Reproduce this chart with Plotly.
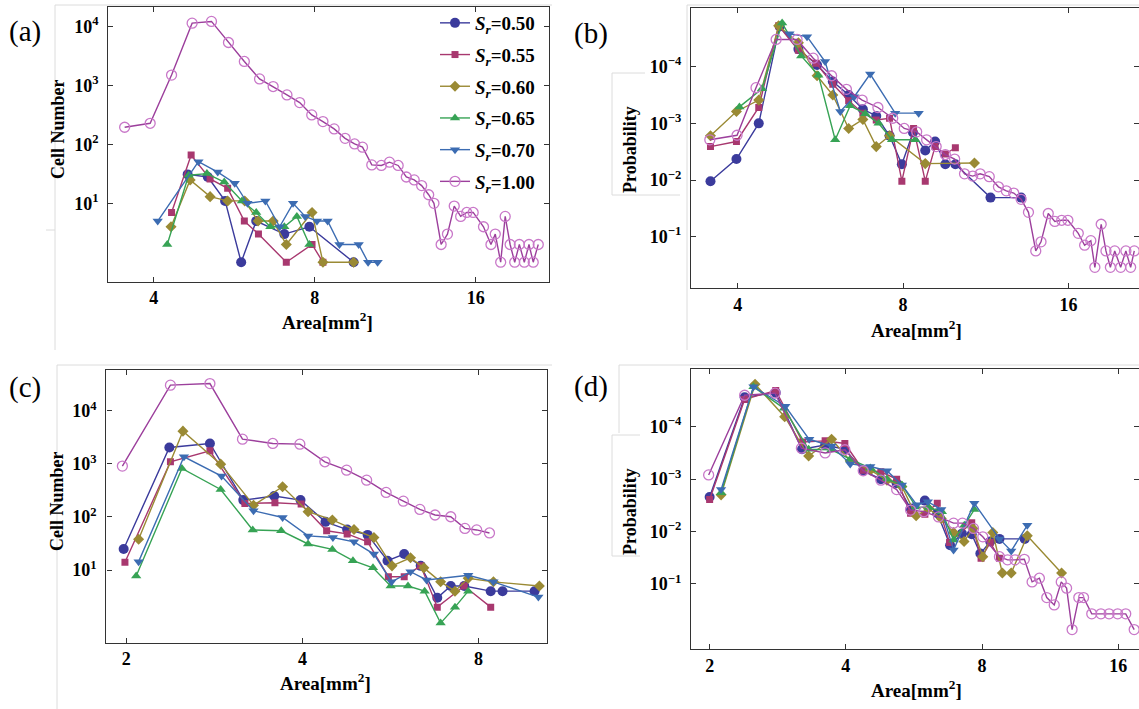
import math
import plotly.graph_objects as go

# ---------------- data ----------------
series_names = ["0.50", "0.55", "0.60", "0.65", "0.70", "1.00"]

# (a) cell number vs area
a_x_050 = [4.63, 5.05, 5.44, 5.83, 6.22, 7.02, 7.82, 9.46]
a_n_050 = [31, 28, 11, 1, 5, 3, 4, 1]
a_x_055 = [4.32, 4.70, 5.10, 5.50, 5.91, 6.28, 7.08, 7.91, 8.29]
a_n_055 = [7, 66, 26, 18, 5, 3, 1, 2, 1]
a_x_060 = [4.31, 4.68, 5.10, 5.50, 5.92, 6.27, 6.69, 7.08, 7.91, 8.29, 9.46]
a_n_060 = [4, 25, 13, 11, 11, 5, 5, 2, 7, 1, 1]
a_x_065 = [4.24, 4.65, 5.03, 5.42, 5.85, 6.22, 6.61, 7.02, 7.41, 7.82]
a_n_065 = [2, 30, 32, 23, 11, 7, 4, 4, 6, 2]
a_x_070 = [4.07, 4.85, 5.27, 5.67, 5.99, 6.47, 6.88, 7.29, 7.68, 8.08, 8.46, 8.90, 9.67, 10.07, 10.49]
a_n_070 = [5, 51, 34, 22, 10, 11, 4, 10, 6, 5, 5, 2, 2, 1, 1]
a_x_100 = [3.53, 3.94, 4.32, 4.72, 5.13, 5.52, 5.91, 6.31, 6.69, 7.10, 7.50, 7.90, 8.29, 8.70,
           9.12, 9.50, 9.83, 10.23, 10.66, 11.04, 11.46, 11.87, 12.28, 12.68, 13.07, 13.37,
           13.79, 14.17, 14.59, 15.00, 15.40, 15.83, 16.55, 17.09, 17.41, 17.82, 18.17, 18.56,
           18.93, 19.31, 19.73, 20.13, 20.50, 20.95]
a_n_100 = [196, 229, 1510, 11500, 12300, 5400, 2570, 1300, 964, 695, 515, 318, 245, 184,
           127, 102, 90, 45, 44, 50, 44, 28, 25, 20, 14, 10,
           2, 3, 9, 6, 7, 7, 4, 2, 3, 1, 6, 2,
           1, 2, 1, 2, 1, 2]

# (b) probability vs area (log10 of the value as read on the axis)
b_x_050 = [3.57, 3.98, 4.37, 4.77, 5.16, 5.58, 5.96, 6.37, 6.76, 7.15, 7.56, 7.96, 8.34, 8.78,
           9.15, 9.55, 9.96, 11.54, 13.12]
b_e_050 = [-1.98, -2.37, -3.00, -4.71, -4.31, -4.03, -3.74, -3.50, -3.25, -3.13, -2.78, -2.28,
           -2.84, -2.52, -2.68, -2.28, -2.28, -1.69, -1.69]
b_x_055 = [3.57, 3.98, 4.37, 4.75, 5.16, 5.56, 5.96, 6.37, 6.76, 7.15, 7.56, 7.96, 8.36, 8.78,
           9.15, 9.55, 9.96]
b_e_055 = [-2.59, -2.68, -3.28, -4.72, -4.29, -4.06, -3.69, -3.40, -3.18, -3.06, -3.09, -1.98,
           -2.91, -1.98, -2.59, -2.46, -2.57]
b_x_060 = [3.57, 3.98, 4.37, 4.75, 5.16, 5.58, 5.96, 6.37, 6.76, 7.15, 7.56, 8.78, 10.79]
b_e_060 = [-2.78, -3.21, -3.41, -4.72, -4.42, -3.84, -3.50, -2.91, -3.07, -2.59, -2.78, -2.29, -2.30]
b_x_065 = [4.03, 4.43, 4.82, 5.22, 5.61, 6.02, 6.41, 6.83, 7.22, 7.64, 8.42]
b_e_065 = [-3.29, -3.61, -4.77, -4.19, -3.85, -2.71, -3.31, -3.17, -3.00, -2.71, -2.71]
b_x_070 = [4.97, 5.35, 5.77, 6.15, 6.52, 6.97, 7.74, 8.54]
b_e_070 = [-4.58, -4.53, -4.09, -3.21, -3.47, -3.87, -3.18, -3.18]
b_x_100 = [3.56, 3.99, 4.32, 4.70, 5.13, 5.49, 5.93, 6.31, 6.74, 7.20, 7.66, 8.04, 8.47, 8.83,
           9.19, 9.55, 9.93, 10.35, 10.71, 11.05, 11.48, 11.93, 12.33, 12.72, 13.12, 13.53,
           13.95, 14.26, 14.70, 15.11, 15.55, 15.96, 16.67, 17.12, 17.57, 17.87, 18.35, 18.72,
           19.07, 19.42, 19.91, 20.35, 20.76, 21.08]
b_e_100 = [-2.71, -2.79, -3.63, -4.48, -4.48, -4.15, -3.84, -3.60, -3.41, -3.28, -3.09, -2.91,
           -2.85, -2.71, -2.59, -2.45, -2.37, -2.11, -2.07, -2.11, -2.06, -1.88, -1.81, -1.77,
           -1.66, -1.43, -0.75, -0.91, -1.41, -1.27, -1.29, -1.29, -1.06, -0.85, -0.93, -0.46,
           -1.22, -0.75, -0.46, -0.75, -0.46, -0.75, -0.46, -0.75]

# (c) cell number vs area
c_x_050 = [1.98, 2.37, 2.78, 3.17, 3.58, 3.97, 4.38, 4.77, 5.17, 5.59, 5.97, 6.37, 6.80, 7.17,
           7.56, 8.39, 8.79, 9.97]
c_n_050 = [25, 2040, 2430, 208, 248, 208, 81, 58, 46, 15, 20, 12, 3, 5, 5, 4, 4, 4]
c_x_055 = [1.99, 2.38, 2.78, 3.19, 3.59, 3.98, 4.40, 4.77, 5.17, 5.61, 5.97, 6.37, 6.80, 7.56, 8.39]
c_n_055 = [14, 1100, 1770, 180, 185, 175, 55, 48, 34, 7.5, 7.5, 12, 2, 5, 2]
c_x_060 = [2.10, 2.50, 2.90, 3.30, 3.70, 4.09, 4.50, 4.90, 5.30, 5.69, 6.12, 6.45, 6.89, 7.29,
           7.68, 8.48, 10.16]
c_n_060 = [38, 4150, 991, 167, 371, 126, 88, 58, 41, 12, 17, 11, 6, 4, 7, 6, 5]
c_x_065 = [2.08, 2.49, 2.90, 3.29, 3.68, 4.09, 4.50, 4.88, 5.28, 5.66, 6.06, 6.47, 6.89, 7.29, 7.68]
c_n_065 = [7.7, 822, 330, 57, 55, 31, 24.5, 15, 11, 5, 5, 4, 1, 2, 4]
c_x_070 = [2.10, 2.51, 2.91, 3.30, 3.70, 4.09, 4.51, 4.90, 5.30, 5.68, 6.12, 6.52, 7.68, 8.48, 10.12]
c_n_070 = [14.4, 1361, 589, 131, 98, 44, 41, 34, 20, 6, 9.3, 6.5, 8, 6, 3.1]
c_x_100 = [1.97, 2.38, 2.78, 3.16, 3.56, 3.96, 4.37, 4.76, 5.15, 5.56, 5.95, 6.35, 6.74, 7.17,
           7.58, 7.94, 8.35]
c_n_100 = [909, 30500, 32700, 2930, 2430, 2360, 1097, 764, 495, 290, 199, 139, 109, 101, 61, 57, 50]

# (d) probability vs area (log10 of the value as read on the axis)
d_x_050 = [2.00, 2.39, 2.80, 3.20, 3.60, 3.98, 4.37, 4.78, 5.18, 5.56, 5.98, 6.37, 6.80, 7.22,
           7.59, 7.93, 8.34, 8.74, 9.94]
d_e_050 = [-2.66, -4.56, -4.65, -3.57, -3.65, -3.57, -3.16, -3.00, -2.92, -2.44, -2.59, -2.35,
           -1.74, -1.96, -1.95, -1.58, -1.81, -1.86, -1.86]
d_x_055 = [2.00, 2.39, 2.80, 3.21, 3.60, 3.98, 4.37, 4.78, 5.18, 5.56, 5.98, 6.37, 6.78, 7.59,
           7.96, 8.34, 8.74]
d_e_055 = [-2.61, -4.52, -4.69, -3.71, -3.73, -3.68, -3.17, -3.14, -3.00, -2.35, -2.33, -2.54,
           -1.79, -2.17, -1.49, -1.79, -1.49]
d_x_060 = [2.12, 2.52, 2.93, 3.31, 3.72, 4.09, 4.53, 4.93, 5.32, 5.72, 6.09, 6.50, 6.92, 7.30,
           7.64, 8.03, 8.45, 8.87, 9.28, 10.07, 11.99]
d_e_060 = [-2.70, -4.81, -4.19, -3.44, -3.76, -3.35, -3.17, -2.98, -2.86, -2.30, -2.44, -2.25,
           -1.98, -1.81, -2.06, -1.52, -1.98, -1.21, -1.21, -1.92, -1.21]
d_x_065 = [2.12, 2.50, 2.92, 3.31, 3.72, 4.09, 4.53, 4.93, 5.32, 5.72, 6.10, 6.52, 6.92, 7.31, 7.69]
d_e_065 = [-2.74, -4.76, -4.35, -3.57, -3.56, -3.38, -3.21, -3.00, -2.89, -2.47, -2.46, -2.38,
           -1.84, -2.12, -2.42]
d_x_070 = [2.12, 2.50, 2.94, 3.32, 3.72, 4.09, 4.53, 4.93, 5.32, 5.74, 6.07, 6.50, 6.92, 7.69,
           8.74, 9.28, 10.07]
d_e_070 = [-2.80, -4.76, -4.39, -3.76, -3.63, -3.29, -3.24, -3.16, -2.89, -2.51, -2.57, -2.42,
           -1.65, -2.54, -1.86, -1.63, -2.12]
d_x_100 = [1.99, 2.39, 2.79, 3.19, 3.60, 3.98, 4.37, 4.78, 5.18, 5.56, 5.95, 6.41, 6.92, 7.24,
           7.66, 8.03, 8.74, 9.11, 9.46, 9.92, 10.32, 10.71, 11.12, 11.55, 11.97, 12.30, 12.65,
           13.09, 13.41, 13.98, 14.65, 15.27, 15.95, 16.62, 17.35]
d_e_100 = [-3.08, -4.60, -4.64, -3.59, -3.50, -3.56, -3.16, -2.98, -2.80, -2.41, -2.38, -2.28,
           -2.16, -2.16, -2.06, -1.90, -1.52, -1.46, -1.46, -1.47, -1.04, -1.11, -0.74, -0.60,
           -1.04, -0.92, -0.13, -0.74, -0.74, -0.43, -0.43, -0.43, -0.43, -0.43, -0.13]

# tick labels
a_xticks = [4, 8, 16]
c_xticks = [2, 4, 8]
d_xticks = [2, 4, 8, 16]
count_yticks = [10, 100, 1000, 10000]
count_yticktext = ["10<sup>1</sup>", "10<sup>2</sup>", "10<sup>3</sup>", "10<sup>4</sup>"]
prob_yticks = [1e-4, 1e-3, 1e-2, 1e-1]
prob_yticktext = ["10<sup>\u22124</sup>", "10<sup>\u22123</sup>", "10<sup>\u22122</sup>", "10<sup>\u22121</sup>"]

# ---------------- styling ----------------
W, H = 1139, 709
SERIF = "Liberation Serif"
line_colors = ["#3b3b9c", "#a8386f", "#9a8a34", "#37a355", "#3c6cb2", "#9c3f9c"]
marker_colors = ["#3b3b9c", "#a8386f", "#9a8a34", "#37a355", "#3c6cb2", "#c978c9"]
symbols = ["circle", "square", "diamond", "triangle-up", "triangle-down", "circle-open"]
sizes = [10, 7, 8.5, 9, 9, 10]

fig = go.Figure()


def add_series(xs, ys, k, axis_id, legend):
    xa = "x" if axis_id == 1 else f"x{axis_id}"
    ya = "y" if axis_id == 1 else f"y{axis_id}"
    mk = dict(symbol=symbols[k], size=sizes[k], color=marker_colors[k])
    if symbols[k].endswith("open"):
        mk["line"] = dict(width=1.3, color=marker_colors[k])
    else:
        mk["line"] = dict(width=0)
    fig.add_trace(go.Scatter(
        x=xs, y=ys, mode="lines+markers", xaxis=xa, yaxis=ya,
        name=f"<b><i>S<sub>r</sub></i>=" + series_names[k] + "</b>",
        legendgroup=series_names[k], showlegend=legend,
        line=dict(color=line_colors[k], width=1.4), marker=mk))


a_sets = [(a_x_050, a_n_050), (a_x_055, a_n_055), (a_x_060, a_n_060),
          (a_x_065, a_n_065), (a_x_070, a_n_070), (a_x_100, a_n_100)]
b_sets = [(b_x_050, b_e_050), (b_x_055, b_e_055), (b_x_060, b_e_060),
          (b_x_065, b_e_065), (b_x_070, b_e_070), (b_x_100, b_e_100)]
c_sets = [(c_x_050, c_n_050), (c_x_055, c_n_055), (c_x_060, c_n_060),
          (c_x_065, c_n_065), (c_x_070, c_n_070), (c_x_100, c_n_100)]
d_sets = [(d_x_050, d_e_050), (d_x_055, d_e_055), (d_x_060, d_e_060),
          (d_x_065, d_e_065), (d_x_070, d_e_070), (d_x_100, d_e_100)]

for k, (xs, ys) in enumerate(a_sets):
    add_series(xs, ys, k, 1, True)
for k, (xs, es) in enumerate(b_sets):
    add_series(xs, [10 ** e for e in es], k, 2, False)
for k, (xs, ys) in enumerate(c_sets):
    add_series(xs, ys, k, 3, False)
for k, (xs, es) in enumerate(d_sets):
    add_series(xs, [10 ** e for e in es], k, 4, False)

tickfont = dict(family=SERIF, size=18, color="black")


def bold(s):
    return f"<b>{s}</b>"


def dom_x(x0, x1):
    return [x0 / W, min(1.0, x1 / W)]


def dom_y(y0, y1):
    return [1 - y1 / H, 1 - y0 / H]


def xaxis(domain, lo, hi, ticks, anchor):
    return dict(type="log", domain=domain, range=[math.log10(lo), math.log10(hi)],
                tickvals=ticks, ticktext=[bold(t) for t in ticks], tickfont=tickfont,
                ticks="inside", ticklen=5, tickwidth=1.2, tickcolor="#333",
                showline=True, linecolor="#333", linewidth=1.3, mirror="ticks",
                showgrid=False, zeroline=False, anchor=anchor, ticklabelstandoff=0)


def yaxis(domain, r0, r1, tv, tt, anchor):
    return dict(type="log", domain=domain, range=[r0, r1],
                tickvals=tv, ticktext=[bold(t) for t in tt], tickfont=tickfont,
                ticks="inside", ticklen=5, tickwidth=1.2, tickcolor="#333",
                showline=True, linecolor="#333", linewidth=1.3, mirror="ticks",
                showgrid=False, zeroline=False, anchor=anchor, ticklabelstandoff=5)


layout = dict(
    width=W, height=H, margin=dict(l=0, r=0, t=0, b=0),
    paper_bgcolor="white", plot_bgcolor="white",
    xaxis=xaxis(dom_x(108.3, 549.3), 3.29, 21.97, a_xticks, "y"),
    yaxis=yaxis(dom_y(7.3, 281.7), -0.331, 4.33, count_yticks, count_yticktext, "x"),
    xaxis2=xaxis(dom_x(691, 1139), 3.29, 21.5, a_xticks, "y2"),
    yaxis2=yaxis(dom_y(8.3, 288.3), -0.09, -5.03, prob_yticks, prob_yticktext, "x2"),
    xaxis3=xaxis(dom_x(106.4, 547), 1.85, 10.47, c_xticks, "y3"),
    yaxis3=yaxis(dom_y(370, 642.7), -0.369, 4.77, count_yticks, count_yticktext, "x3"),
    xaxis4=xaxis(dom_x(691.1, 1139), 1.82, 17.78, d_xticks, "y4"),
    yaxis4=yaxis(dom_y(369.3, 649.3), 0.246, -5.095, prob_yticks, prob_yticktext, "x4"),
    legend=dict(x=540 / W, xanchor="right", y=1 - 4 / H, yanchor="top",
                bgcolor="rgba(0,0,0,0)", font=dict(family=SERIF, size=19, color="black"),
                tracegroupgap=4, itemwidth=30),
    showlegend=True,
)
fig.update_layout(**layout)


def ann(text, x, y, size, angle=0, bold_text=True):
    fig.add_annotation(text=(f"<b>{text}</b>" if bold_text else text), x=x / W, y=1 - y / H,
                       xref="paper", yref="paper", showarrow=False, textangle=angle,
                       xanchor="center", yanchor="middle",
                       font=dict(family=SERIF, size=size, color="black"))


# panel labels
ann("(a)", 25, 31, 29, bold_text=False)
ann("(b)", 591, 33, 29, bold_text=False)
ann("(c)", 25, 387, 29, bold_text=False)
ann("(d)", 591, 386, 29, bold_text=False)
# axis titles
xt = "Area[mm<sup>2</sup>]"
ann(xt, 327, 321, 19)
ann(xt, 916, 329, 19)
ann(xt, 325, 682, 19)
ann(xt, 916, 689, 19)
ann("Cell Number", 58, 130, 18, angle=-90)
ann("Probability", 630, 150, 18, angle=-90)
ann("Cell Number", 57, 502, 18, angle=-90)
ann("Probability", 630, 512, 18, angle=-90)

# faint frame lines of the composed figure
frame = "#dcdcdc"


def seg(x0, y0, x1, y1):
    fig.add_shape(type="line", xref="paper", yref="paper", x0=x0 / W, x1=x1 / W,
                  y0=1 - y0 / H, y1=1 - y1 / H, line=dict(color=frame, width=1), layer="below")


seg(55, 5, 55, 350)
seg(55, 5, 552, 5)
seg(46, 230, 55, 230)
seg(687, 5, 687, 350)
seg(687, 5, 1139, 5)
seg(612, 73, 612, 195)
seg(612, 73, 645, 73)
seg(612, 195, 680, 195)
seg(57, 365, 57, 709)
seg(57, 365, 552, 365)
seg(619, 365, 619, 433)
seg(619, 365, 1139, 365)
seg(612, 435, 612, 556)
seg(612, 435, 640, 435)
seg(612, 556, 640, 556)

fig.write_html("out.html", config={"displayModeBar": False},
               post_script="document.body.style.margin='0px';")
